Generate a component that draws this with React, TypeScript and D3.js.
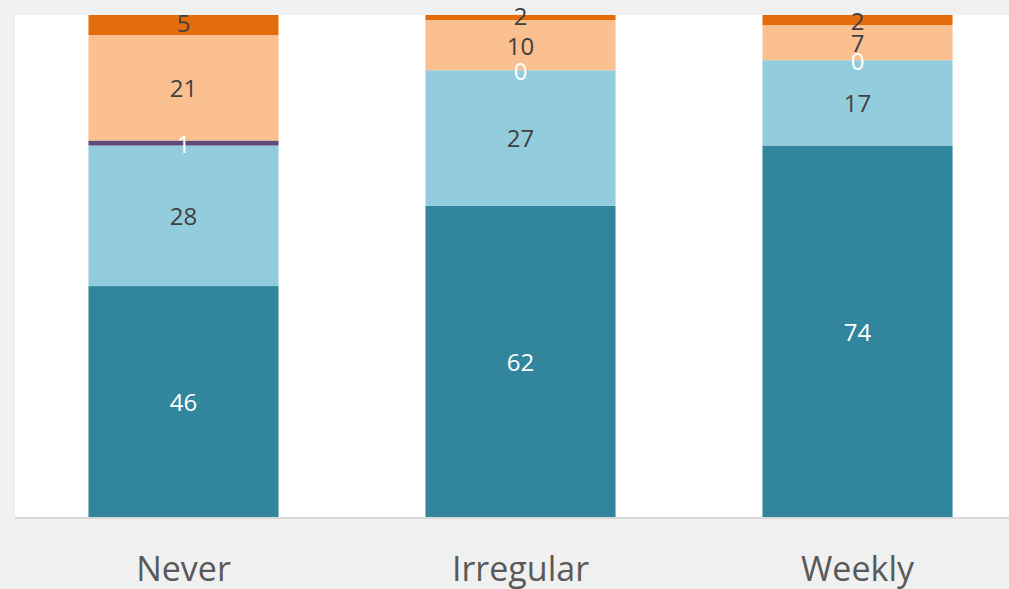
import React from "react";
import * as d3 from "d3";

// Stacked shares (percent) per visit frequency
const categories = ["Never", "Irregular", "Weekly"];
const seriesA = [46, 62, 74];
const seriesB = [28, 27, 17];
const seriesC = [1, 0, 0];
const seriesD = [21, 10, 7];
const seriesE = [5, 2, 2];

const seriesKeys = ["a", "b", "c", "d", "e"];
const seriesColors = ["#31859C", "#93CDDD", "#604A7B", "#FAC090", "#E46C0A"];
const labelColors = ["#FFFFFF", "#404040", "#FFFFFF", "#404040", "#404040"];

const W = 1009;
const H = 589;
const plot = { left: 15, top: 15, right: 1026, bottom: 517 };
const FONT = "'Open Sans', 'Noto Sans', sans-serif";

export default function App() {
  const rows = categories.map((cat, i) => ({
    cat,
    a: seriesA[i],
    b: seriesB[i],
    c: seriesC[i],
    d: seriesD[i],
    e: seriesE[i],
  }));

  const stacked = d3.stack<any>().keys(seriesKeys)(rows);

  const x = d3
    .scaleBand<string>()
    .domain(categories)
    .range([plot.left, plot.right])
    .paddingInner(0.436)
    .paddingOuter(0.218);

  const y = d3.scaleLinear().domain([0, 100]).range([plot.bottom, plot.top]);

  return (
    <div style={{ position: "absolute", left: 0, top: 0 }}>
      <svg width={W} height={H} style={{ display: "block" }}>
        <defs>
          <clipPath id="plotClip">
            <rect
              x={plot.left}
              y={plot.top}
              width={plot.right - plot.left}
              height={plot.bottom - plot.top}
            />
          </clipPath>
        </defs>
        <rect x={0} y={0} width={W} height={H} fill="#F0F0F0" />
        <rect
          x={plot.left}
          y={plot.top}
          width={plot.right - plot.left}
          height={plot.bottom - plot.top}
          fill="#FFFFFF"
        />
        <g clipPath="url(#plotClip)">
          {stacked.map((layer, si) =>
            layer.map((seg, ci) => (
              <rect
                key={`${si}-${ci}`}
                x={x(categories[ci])}
                y={y(seg[1])}
                width={x.bandwidth()}
                height={Math.max(0, y(seg[0]) - y(seg[1]))}
                fill={seriesColors[si]}
              />
            ))
          )}
        </g>
        <line
          x1={plot.left}
          x2={plot.right}
          y1={plot.bottom + 1}
          y2={plot.bottom + 1}
          stroke="#D9D9D9"
          strokeWidth={2}
        />
        {stacked.map((layer, si) =>
          layer.map((seg, ci) => (
            <text
              key={`l-${si}-${ci}`}
              x={(x(categories[ci]) as number) + x.bandwidth() / 2}
              y={y((seg[0] + seg[1]) / 2)}
              textAnchor="middle"
              dominantBaseline="central"
              fontFamily={FONT}
              fontSize={24}
              fill={labelColors[si]}
            >
              {seg[1] - seg[0]}
            </text>
          ))
        )}
        {categories.map((cat) => (
          <text
            key={cat}
            x={(x(cat) as number) + x.bandwidth() / 2}
            y={581}
            textAnchor="middle"
            fontFamily={FONT}
            fontSize={34}
            fill="#595959"
          >
            {cat}
          </text>
        ))}
      </svg>
    </div>
  );
}
